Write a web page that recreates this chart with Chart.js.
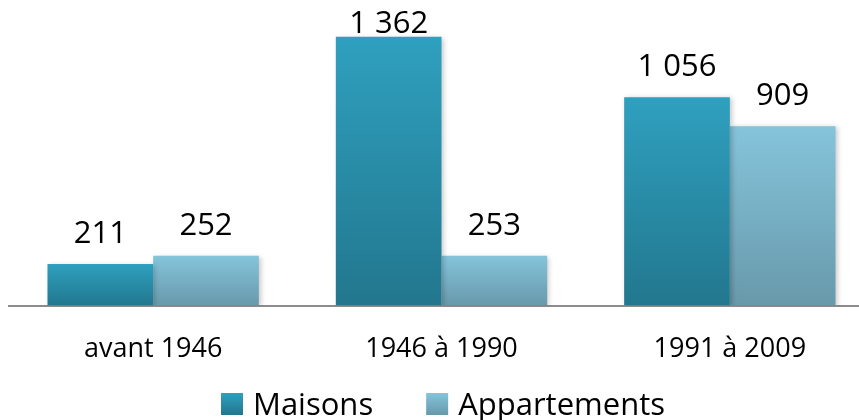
<!DOCTYPE html>
<html>
<head>
<meta charset="utf-8">
<script src="https://cdn.jsdelivr.net/npm/chart.js@4/dist/chart.umd.min.js"></script>
<style>
  html, body { margin: 0; padding: 0; background: #fff; overflow: hidden; }
  #wrap { position: absolute; left: 0; top: 0; width: 882px; height: 420px; }
</style>
</head>
<body>
<div id="wrap"><canvas id="barChart"></canvas></div>
<script>
const categories = ['avant 1946', '1946 à 1990', '1991 à 2009'];
const maisons = [211, 1362, 1056];
const appartements = [252, 253, 909];

const colorsTop = ['#2fa0bf', '#85c4db'];
const colorsBottom = ['#22778e', '#6899ab'];

function fmt(v) {
    return String(v).replace(/\B(?=(\d{3})+(?!\d))/g, ' ');
}

// gradient per bar, light at the top, darker at the base
function barGradient(i) {
    return function (context) {
        const chart = context.chart;
        const yScale = chart.scales.y;
        if (!yScale || !context.parsed) {
            return colorsTop[i];
        }
        const y0 = yScale.getPixelForValue(context.parsed.y);
        const y1 = yScale.getPixelForValue(0);
        if (!isFinite(y0) || !isFinite(y1) || y0 === y1) {
            return colorsTop[i];
        }
        const g = chart.ctx.createLinearGradient(0, y0, 0, y1);
        g.addColorStop(0, colorsTop[i]);
        g.addColorStop(1, colorsBottom[i]);
        return g;
    };
}

const shadowPlugin = {
    id: 'shadow',
    beforeDatasetsDraw(chart) {
        const ctx = chart.ctx;
        ctx.save();
        ctx.shadowColor = 'rgba(0,0,0,0.22)';
        ctx.shadowBlur = 5;
        ctx.shadowOffsetX = 2;
        ctx.shadowOffsetY = 1;
    },
    afterDatasetsDraw(chart) {
        chart.ctx.restore();
    }
};

const valueLabels = {
    id: 'valueLabels',
    afterDatasetsDraw(chart) {
        const ctx = chart.ctx;
        ctx.save();
        ctx.font = '31px "Open Sans"';
        ctx.fillStyle = '#000';
        ctx.textAlign = 'center';
        ctx.textBaseline = 'alphabetic';
        chart.data.datasets.forEach((ds, i) => {
            chart.getDatasetMeta(i).data.forEach((bar, j) => {
                const y = Math.max(bar.y - 21, 33);
                ctx.fillText(fmt(ds.data[j]), bar.x, y);
            });
        });
        ctx.restore();
    }
};

// legend drawn by hand so the gap between items can be wide
const bottomLegend = {
    id: 'bottomLegend',
    afterDraw(chart) {
        const ctx = chart.ctx;
        const box = 22, gapText = 10, gapItem = 53;
        ctx.save();
        ctx.font = '31px "Open Sans"';
        const names = chart.data.datasets.map(ds => ds.label);
        const widths = names.map(n => ctx.measureText(n).width);
        let total = 0;
        widths.forEach((w, i) => { total += box + gapText + w + (i > 0 ? gapItem : 0); });
        let x = chart.width / 2 + 2 - total / 2;
        const top = 393;
        names.forEach((n, i) => {
            const g = ctx.createLinearGradient(0, top, 0, top + box);
            g.addColorStop(0, colorsTop[i]);
            g.addColorStop(1, colorsBottom[i]);
            ctx.fillStyle = g;
            ctx.fillRect(x, top, box, box);
            ctx.fillStyle = '#000';
            ctx.textAlign = 'left';
            ctx.textBaseline = 'alphabetic';
            ctx.fillText(n, x + box + gapText, top + box);
            x += box + gapText + widths[i] + gapItem;
        });
        ctx.restore();
    }
};

const ctx = document.getElementById('barChart').getContext('2d');
const myChart = new Chart(ctx, {
    type: 'bar',
    data: {
        labels: categories,
        datasets: [{
            label: 'Maisons',
            data: maisons,
            backgroundColor: barGradient(0),
            borderWidth: 0
        }, {
            label: 'Appartements',
            data: appartements,
            backgroundColor: barGradient(1),
            borderWidth: 0
        }]
    },
    options: {
        responsive: true,
        maintainAspectRatio: false,
        animation: false,
        layout: { padding: { left: 9, right: 8, top: 0, bottom: 34 } },
        categoryPercentage: 0.733,
        barPercentage: 1,
        scales: {
            x: {
                grid: { display: false },
                border: { display: true, color: '#8c8c8c', width: 2 },
                ticks: {
                    color: '#000',
                    padding: 20,
                    font: { family: '"Open Sans"', size: 27 }
                }
            },
            y: {
                display: false,
                min: 0,
                max: 1548
            }
        },
        plugins: {
            legend: { display: false },
            tooltip: { enabled: false },
            title: { display: false }
        }
    },
    plugins: [shadowPlugin, valueLabels, bottomLegend]
});
</script>
</body>
</html>
